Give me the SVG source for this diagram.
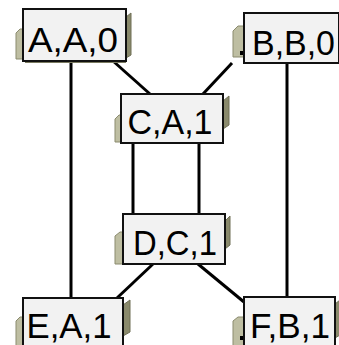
<svg xmlns="http://www.w3.org/2000/svg" width="339" height="345" viewBox="0 0 339 345">
<style>
.box{fill:#f2f2f2;stroke:#111;stroke-width:2}
.lt{fill:#bebea2;stroke:#8b8b6e;stroke-width:1}
.rt{fill:#8a8a6c;stroke:#6f6f55;stroke-width:1}
.bs{fill:#7a7a60}
.lbl{font-family:"Liberation Sans",Arial,sans-serif;font-size:35px;fill:#000;text-anchor:middle}
.edge{stroke:#000;stroke-width:3;fill:none}
</style>
<rect width="339" height="345" fill="#fff"/>
<g id="connectors">
<line class="edge" x1="71" y1="61" x2="71" y2="298"/>
<line class="edge" x1="113" y1="61" x2="150" y2="94"/>
<line class="edge" x1="232" y1="63" x2="203" y2="94"/>
<line class="edge" x1="287" y1="63" x2="287" y2="297"/>
<line class="edge" x1="133" y1="143" x2="133" y2="214"/>
<line class="edge" x1="199" y1="143" x2="199" y2="214"/>
<line class="edge" x1="153" y1="264" x2="117" y2="298"/>
<line class="edge" x1="198" y1="264" x2="244" y2="302"/>
</g>
<g id="nodeA">
<polygon class="lt" points="16,33 20,29 23,29 23,59 16,59"/>
<polygon class="rt" points="126,17 131,13 131,55 126,58"/>
<rect class="bs" x="25" y="61" width="101" height="2"/>
<rect class="box" x="23" y="9" width="103" height="52"/>
<text class="lbl" x="73" y="52" textLength="90" lengthAdjust="spacingAndGlyphs">A,A,0</text>
</g>
<g id="nodeB">
<polygon class="lt" points="233,31 238,26 244,26 244,57 233,57"/>
<rect x="240" y="51" width="3" height="4" fill="#000"/>
<rect class="box" x="244" y="13" width="95" height="50"/>
<text class="lbl" x="293.5" y="55" textLength="83" lengthAdjust="spacingAndGlyphs">B,B,0</text>
</g>
<g id="nodeC">
<polygon class="lt" points="115,119 119,115 121,115 121,142 115,142"/>
<polygon class="rt" points="223,101 229,96 229,125 223,129"/>
<rect class="box" x="121" y="94" width="102" height="49"/>
<text class="lbl" x="170" y="134" textLength="85" lengthAdjust="spacingAndGlyphs">C,A,1</text>
</g>
<g id="nodeD">
<polygon class="lt" points="115,236 120,232 123,232 123,264 115,264"/>
<polygon class="rt" points="225,221 230,216 230,245 225,249"/>
<rect class="box" x="123" y="214" width="102" height="50"/>
<text class="lbl" x="175" y="255" textLength="84" lengthAdjust="spacingAndGlyphs">D,C,1</text>
</g>
<g id="nodeE">
<polygon class="lt" points="16,321 20,317 23,317 23,350 16,350"/>
<polygon class="rt" points="123,305 130,300 130,332 123,336"/>
<rect class="box" x="23" y="298" width="100" height="55"/>
<text class="lbl" x="69" y="338" textLength="85" lengthAdjust="spacingAndGlyphs">E,A,1</text>
</g>
<g id="nodeF">
<polygon class="lt" points="233,321 238,317 244,317 244,350 233,350"/>
<rect x="240" y="336" width="3" height="4" fill="#000"/>
<polygon class="rt" points="335,304 340,300 340,335 335,338"/>
<rect class="box" x="244" y="297" width="91" height="56"/>
<text class="lbl" x="290" y="338" textLength="80" lengthAdjust="spacingAndGlyphs">F,B,1</text>
</g>
</svg>
